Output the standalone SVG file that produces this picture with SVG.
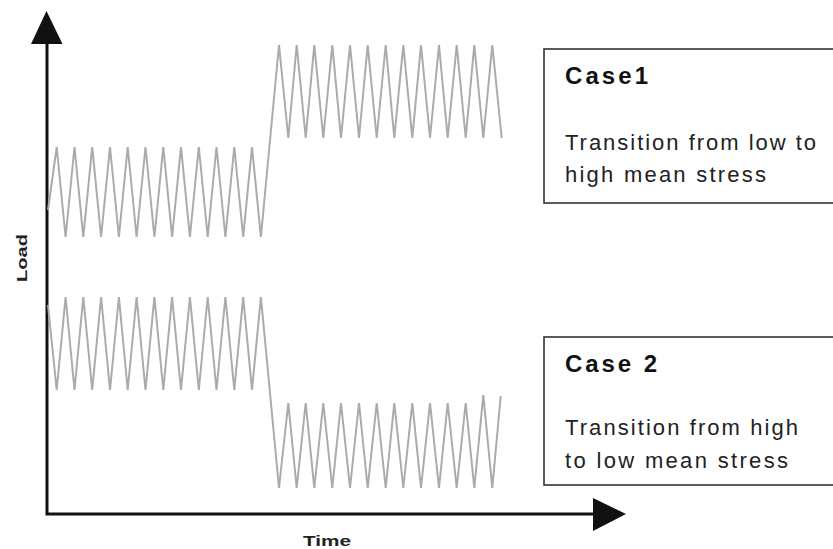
<svg xmlns="http://www.w3.org/2000/svg" width="833" height="549" viewBox="0 0 833 549">
  <style>
    .axis { stroke: #111; stroke-width: 3; fill: none; }
    .head { fill: #111; }
    .wave { stroke: #ababab; stroke-width: 2; fill: none; stroke-linejoin: miter; }
    .box { fill: #fff; stroke: #333; stroke-width: 1.6; }
    .title { font-family: "Liberation Sans", Arial, sans-serif; font-weight: bold; font-size: 24px; fill: #111; }
    .body { font-family: "Liberation Sans", Arial, sans-serif; font-size: 22px; fill: #222; }
    .lbl { font-family: "Liberation Sans", Arial, sans-serif; font-weight: bold; font-size: 15px; fill: #222; }
  </style>
  <rect width="833" height="549" fill="#fff"/>

  <!-- axes -->
  <g id="axes">
    <polyline class="axis" points="47,40 47,514 596,514"/>
    <polygon class="head" points="46.5,11 31,44 62.5,44"/>
    <polygon class="head" points="626,514 593,498 593,531"/>
    <text class="lbl" transform="translate(27,282) rotate(-90)" textLength="48" lengthAdjust="spacingAndGlyphs">Load</text>
    <text class="lbl" x="303" y="546" textLength="48" lengthAdjust="spacingAndGlyphs">Time</text>
  </g>

  <!-- load histories -->
  <g id="connectors">
    <polyline id="case1-wave" class="wave" points="48,210 56.7,147 65.6,237 74.5,147 83.3,237 92.2,147 101.1,237 110,147 118.9,237 127.7,147 136.6,237 145.5,147 154.4,237 163.3,147 172.1,237 181,147 189.9,237 198.8,147 207.7,237 216.5,147 225.4,237 234.3,147 243.2,237 252,147 260.9,237 279,45 288.3,138 296.7,45 305.7,138 314.3,45 323.3,138 332.3,45 341,138 350,45 359,138 367.7,45 376.7,138 385.7,45 394.3,138 403.3,45 412.3,138 421,45 430,138 439,45 447.7,138 456.7,45 465.7,138 474.3,45 483.3,138 492.3,45 501.7,138"/>
    <polyline id="case2-wave" class="wave" points="48,305 56.7,390 65.6,297 74.5,390 83.3,297 92.2,390 101.1,297 110,390 118.9,297 127.7,390 136.6,297 145.5,390 154.4,297 163.3,390 172.1,297 181,390 189.9,297 198.8,390 207.7,297 216.5,390 225.4,297 234.3,390 243.2,297 252,390 260.9,297 279,488 288.3,403 296.7,488 305.7,403 314.3,488 323.3,403 332.3,488 341,403 350,488 359,403 367.7,488 376.7,403 385.7,488 394.3,403 403.3,488 412.3,403 421,488 430,403 439,488 447.7,403 456.7,488 465.7,403 474.3,488 483.3,395 492.3,488 500.7,396"/>
  </g>

  <!-- legend boxes -->
  <g id="case1">
    <rect class="box" x="544" y="49" width="300" height="154"/>
    <text class="title" x="565" y="84" textLength="83">Case1</text>
    <text class="body" x="565" y="150" textLength="251">Transition from low to</text>
    <text class="body" x="565" y="182" textLength="201">high mean stress</text>
  </g>
  <g id="case2">
    <rect class="box" x="544" y="337" width="300" height="148"/>
    <text class="title" x="565" y="372" textLength="92">Case 2</text>
    <text class="body" x="565" y="435" textLength="233">Transition from high</text>
    <text class="body" x="565" y="468" textLength="223">to low mean stress</text>
  </g>
</svg>
